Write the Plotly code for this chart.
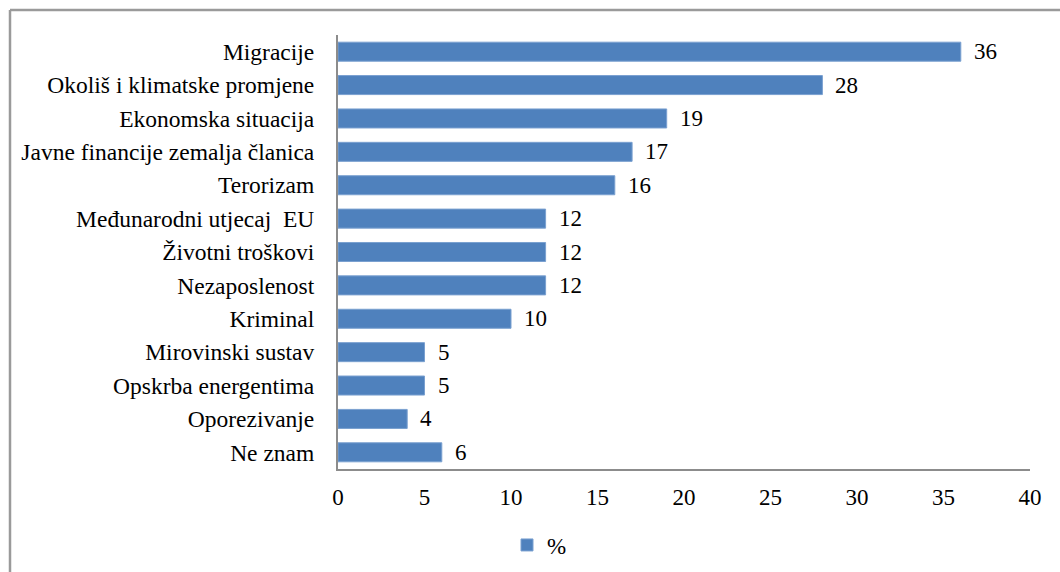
import plotly.graph_objects as go

categories = [
    "Migracije",
    "Okoliš i klimatske promjene",
    "Ekonomska situacija",
    "Javne financije zemalja članica",
    "Terorizam",
    "Međunarodni utjecaj  EU",
    "Životni troškovi",
    "Nezaposlenost",
    "Kriminal",
    "Mirovinski sustav",
    "Opskrba energentima",
    "Oporezivanje",
    "Ne znam",
]
values = [36, 28, 19, 17, 16, 12, 12, 12, 10, 5, 5, 4, 6]
series_name = "%"
x_ticks = [0, 5, 10, 15, 20, 25, 30, 35, 40]

W, H = 1060, 572
L, R, T, B = 338, 30, 35, 103
pw, ph = W - L - R, H - T - B

FONT = "Liberation Serif"
GRAY = "#8c8c8c"
BLUE = "#4f81bd"

fig = go.Figure()
fig.add_trace(go.Bar(
    y=categories,
    x=values,
    orientation="h",
    name=series_name,
    marker=dict(color=BLUE, line=dict(color="#7aa0d0", width=1)),
    showlegend=True,
))

for c, v in zip(categories, values):
    fig.add_annotation(x=v, y=c, text=str(v), showarrow=False,
                       xanchor="left", xshift=11,
                       font=dict(family=FONT, size=23, color="#000"))

def px_x(p):
    return (p - L) / pw

def px_y(p):
    return 1 - (p - T) / ph

# outer chart border (top and left visible)
fig.add_shape(type="line", xref="paper", yref="paper",
              x0=px_x(10), x1=px_x(W + 5), y0=px_y(10), y1=px_y(10),
              line=dict(color="#9a9a9a", width=2.5))
fig.add_shape(type="line", xref="paper", yref="paper",
              x0=px_x(10), x1=px_x(10), y0=px_y(10), y1=px_y(H + 5),
              line=dict(color="#9a9a9a", width=2.5))

fig.update_layout(
    width=W, height=H,
    margin=dict(l=L, r=R, t=T, b=B, autoexpand=False),
    paper_bgcolor="white", plot_bgcolor="white",
    font=dict(family=FONT, size=23, color="#000"),
    bargap=0.43,
    legend=dict(orientation="h", x=px_x(507), y=px_y(545),
                xanchor="left", yanchor="middle",
                font=dict(family=FONT, size=23),
                itemwidth=30),
    xaxis=dict(range=[0, 40], tickvals=x_ticks, showgrid=False,
               zeroline=False, showline=True, linecolor=GRAY, linewidth=2,
               ticks="", ticklabelstandoff=6, automargin=False,
               tickfont=dict(family=FONT, size=23)),
    yaxis=dict(categoryorder="array", categoryarray=categories,
               autorange="reversed", showgrid=False, showline=True,
               linecolor=GRAY, linewidth=2, ticks="", ticklabelstandoff=17,
               automargin=False,
               tickfont=dict(family=FONT, size=23.5)),
)

fig.write_html("out.html",
               config={"displayModeBar": False},
               post_script="document.body.style.margin='0';document.body.style.overflow='hidden';")
